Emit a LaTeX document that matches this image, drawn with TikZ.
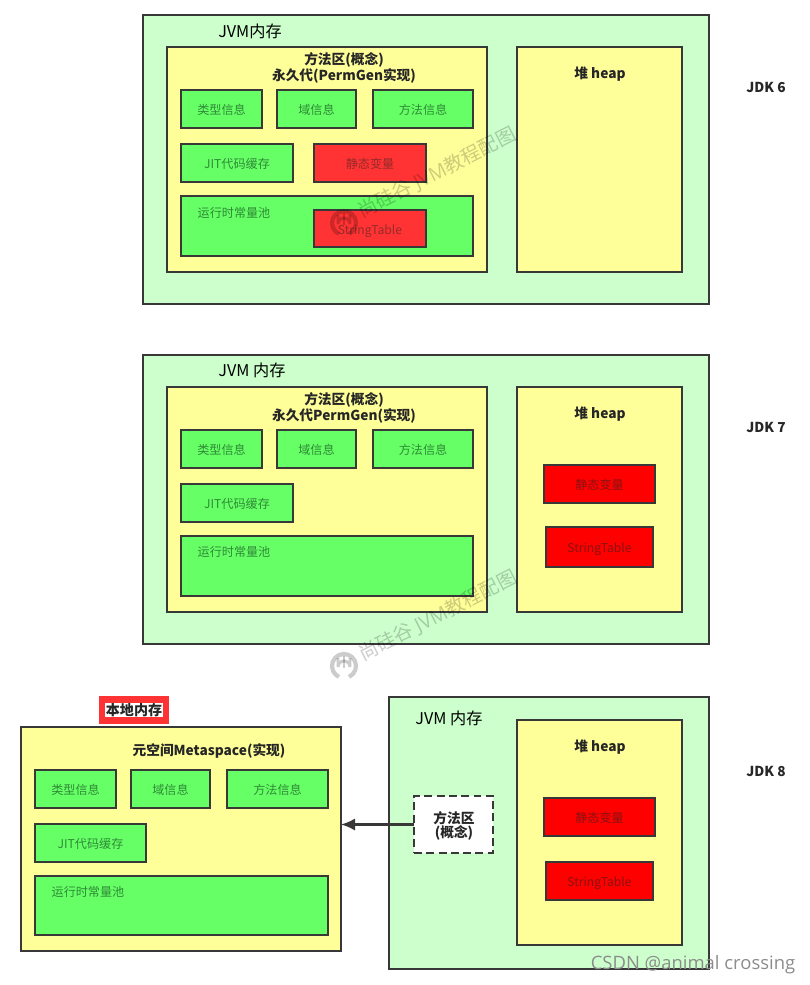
\documentclass[tikz,border=0pt]{standalone}
\usepackage{fontspec}
\setmainfont{Noto Sans CJK SC}
\newfontfamily\wmfont{Open Sans}
\usetikzlibrary{arrows.meta}
\tikzset{
span/.style n args={4}{minimum width={(#3-#1)*0.02cm},minimum height={(#4-#2)*0.02cm},at={({(#1+#3)/2},{(#2+#4)/2})}},
pane/.style={draw=black!78,line width=1.1pt,inner sep=0pt,outer sep=0pt},
jvmbox/.style={pane,fill=jvmfill},
areabox/.style={pane,fill=areafill},
infobox/.style={pane,fill=infofill,text=infotext,text height=6.5pt,text depth=0pt,font=\fontsize{6.9pt}{8pt}\selectfont},
staticbox/.style={pane,fill=staticfill,text=statictext,text height=6.5pt,text depth=0pt,font=\fontsize{6.9pt}{8pt}\selectfont},
heapbox/.style={pane,fill=red,text=heaptext,text height=6.5pt,text depth=0pt,font=\fontsize{6.9pt}{8pt}\selectfont},
plain/.style={text=infotext,font=\fontsize{6.9pt}{8pt}\selectfont},
jvmlabel/.style={text=black,font=\fontsize{9.2pt}{11pt}\selectfont},
title/.style={text=black!85,align=center,font=\fontsize{7.8pt}{8.1pt}\selectfont\bfseries},
watermark/.style={text=black,text opacity=0.2,rotate=27,font=\fontsize{11pt}{13pt}\selectfont}
}
\definecolor{jvmfill}{HTML}{CCFFCC}
\definecolor{areafill}{HTML}{FFFF99}
\definecolor{infofill}{HTML}{66FF66}
\definecolor{infotext}{HTML}{2F8A36}
\definecolor{staticfill}{HTML}{FF3333}
\definecolor{statictext}{HTML}{962A2A}
\definecolor{heaptext}{HTML}{8A1212}
\begin{document}
\begin{tikzpicture}[x=0.02cm,y=-0.02cm]
\useasboundingbox (0,0) rectangle (810,985);
\node[jvmbox,span={143}{15}{709}{304}] (jvm6) {};
\node[jvmlabel] (jvmlabel6) at (250,31) {JVM内存};
\node[areabox,span={167}{47}{487}{272}] (method6) {};
\node[title] (methodtitle6) at (344,68) {方法区(概念)\\永久代(PermGen实现)};
\node[areabox,span={517}{47}{682}{272}] (heap6) {};
\node[title] (heaptitle6) at (600,74) {堆 heap};
\node[infobox,span={181}{90}{262}{128}] (type6) {类型信息};
\node[infobox,span={277}{90}{356}{128}] (field6) {域信息};
\node[infobox,span={373}{90}{473}{128}] (func6) {方法信息};
\node[infobox,span={181}{144}{293}{182}] (jit6) {JIT代码缓存};
\node[staticbox,span={314}{144}{426}{182}] (static6) {静态变量};
\node[infobox,span={181}{196}{473}{256}] (pool6) {};
\node[plain] (poollabel6) at (234,213) {运行时常量池};
\node[staticbox,span={314}{210}{426}{247}] (string6) {StringTable};
\node[title] (jdk6) at (766,87) {JDK 6};

\node[jvmbox,span={143}{355}{709}{644}] (jvm7) {};
\node[jvmlabel] (jvmlabel7) at (252,370) {JVM 内存};
\node[areabox,span={167}{387}{487}{612}] (method7) {};
\node[title] (methodtitle7) at (344,408) {方法区(概念)\\永久代PermGen(实现)};
\node[areabox,span={517}{387}{682}{612}] (heap7) {};
\node[title] (heaptitle7) at (600,414) {堆 heap};
\node[infobox,span={181}{430}{262}{468}] (type7) {类型信息};
\node[infobox,span={277}{430}{356}{468}] (field7) {域信息};
\node[infobox,span={373}{430}{473}{468}] (func7) {方法信息};
\node[infobox,span={181}{484}{293}{522}] (jit7) {JIT代码缓存};
\node[infobox,span={181}{536}{473}{596}] (pool7) {};
\node[plain] (poollabel7) at (234,552) {运行时常量池};
\node[heapbox,span={544}{465}{655}{503}] (static7) {静态变量};
\node[heapbox,span={546}{527}{653}{567}] (string7) {StringTable};
\node[title] (jdk7) at (766,427) {JDK 7};

\node[jvmbox,span={389}{697}{709}{969}] (jvm8) {};
\node[jvmlabel] (jvmlabel8) at (449,718) {JVM 内存};
\node[areabox,span={517}{720}{682}{945}] (heap8) {};
\node[title] (heaptitle8) at (600,747) {堆 heap};
\node[heapbox,span={544}{798}{655}{836}] (static8) {静态变量};
\node[heapbox,span={546}{862}{653}{900}] (string8) {StringTable};
\node[title] (jdk8) at (766,771) {JDK 8};
\node[pane,dash pattern=on 4.5pt off 2.5pt,fill=white,span={414}{796}{493}{853}] (method8) {};
\node[title] (methodtitle8) at (454,826) {方法区\\(概念)};

\node[areabox,span={21}{727}{341}{951}] (meta8) {};
\node[title] (metatitle8) at (209,751) {元空间Metaspace(实现)};
\node[infobox,span={35}{770}{116}{808}] (type8) {类型信息};
\node[infobox,span={131}{770}{210}{808}] (field8) {域信息};
\node[infobox,span={227}{770}{328}{808}] (func8) {方法信息};
\node[infobox,span={35}{824}{146}{862}] (jit8) {JIT代码缓存};
\node[infobox,span={35}{876}{328}{935}] (pool8) {};
\node[plain] (poollabel8) at (88,892) {运行时常量池};
\node[fill=staticfill,inner sep=0pt,span={99}{696}{169}{724}] (native8) {};
\node[fill=white,text=black!85,inner sep=0.4pt,font=\fontsize{8pt}{9pt}\selectfont\bfseries] (nativelabel8) at (134,710) {本地内存};
\draw[draw=black!78,line width=1.2pt,-{Latex[length=8pt,width=7pt]}] (method8.west) -- (meta8.east |- method8.west);

\node[watermark] (mark6) at (437,173) {尚硅谷 {\wmfont JVM}教程配图};
\node[watermark] (mark7) at (438,616) {尚硅谷 {\wmfont JVM}教程配图};
\foreach \cy in {223,666} {
\draw[black,opacity=0.2,line width=2.4pt] (344,\cy) ++(65:12) arc (65:-245:12);
\draw[black,opacity=0.2,line width=1.7pt] (338,\cy-8) -- (338,\cy+1) arc (180:360:6) -- (350,\cy-8);
\draw[black,opacity=0.2,line width=1.5pt] (344,\cy-10) -- (344,\cy+2);
}
\node[text=black!45,font=\wmfont\fontsize{10.5pt}{12pt}\selectfont] (csdn) at (693,965) {CSDN @animal crossing};
\end{tikzpicture}
\end{document}
